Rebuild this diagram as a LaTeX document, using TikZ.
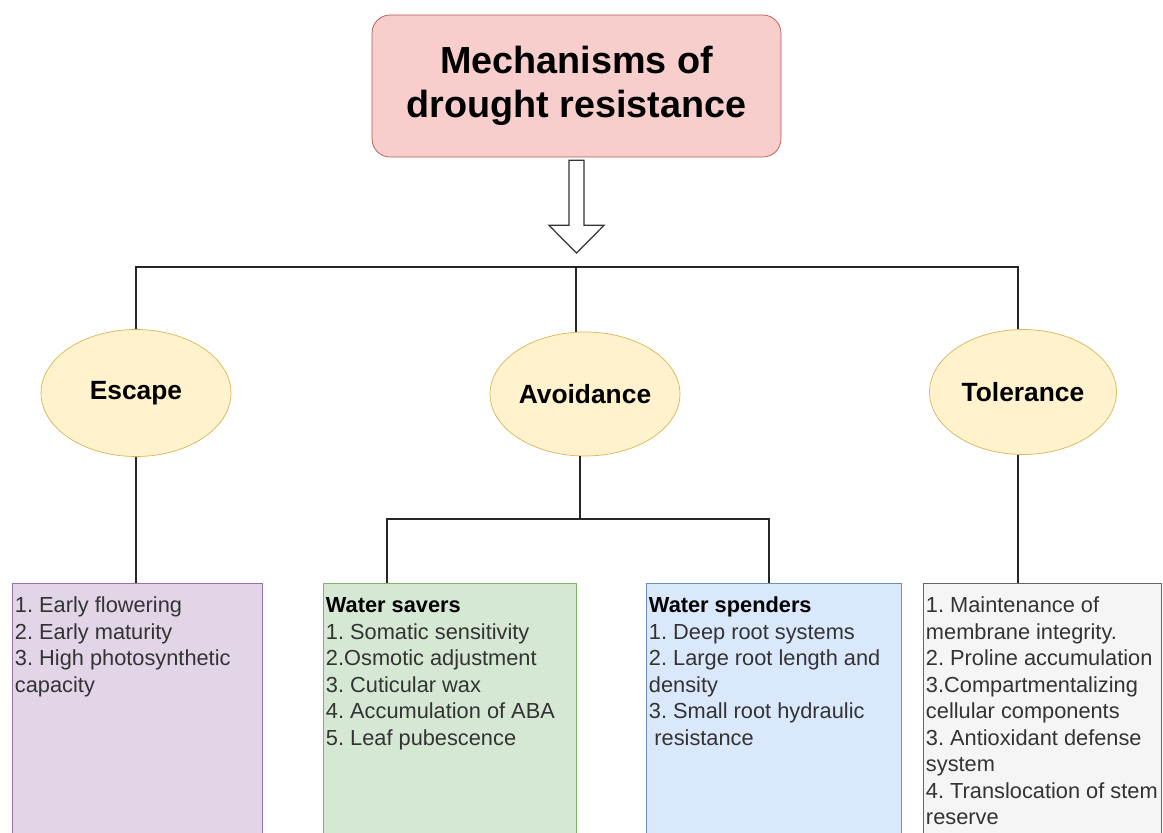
\documentclass[tikz,border=0pt]{standalone}
\usepackage{fontspec}
\setmainfont{Liberation Sans}
\usetikzlibrary{shapes.geometric}
\usetikzlibrary{calc}
\definecolor{titlefill}{HTML}{F8CECC}
\definecolor{titleline}{HTML}{B85450}
\definecolor{ovalfill}{HTML}{FFF2CC}
\definecolor{ovalline}{HTML}{D6B656}
\definecolor{purplefill}{HTML}{E1D5E7}
\definecolor{purpleline}{HTML}{9673A6}
\definecolor{greenfill}{HTML}{D5E8D4}
\definecolor{greenline}{HTML}{82B366}
\definecolor{bluefill}{HTML}{DAE8FC}
\definecolor{blueline}{HTML}{6C8EBF}
\definecolor{grayfill}{HTML}{F5F5F5}
\definecolor{grayline}{HTML}{666666}
\definecolor{bodytext}{HTML}{333333}
\frenchspacing
\tikzset{
  oval/.style={draw=ovalline,fill=ovalfill,ellipse,inner sep=0pt,
    font=\fontsize{15}{18}\selectfont\bfseries},
  listbox/.style={anchor=north west,inner xsep=1.5pt,inner ysep=6pt,
    font=\fontsize{12.4}{15.1}\selectfont,text=bodytext},
  link/.style={draw=black!85,line width=0.75pt},
  hollow/.style={draw=black!80,line width=0.7pt,fill=white},
}
\newcommand{\listtext}[2]{\parbox[t][7cm][t]{#1}{\raggedright\strut #2}}

\begin{document}
\begin{tikzpicture}[x=0.02cm,y=-0.02cm]
  \useasboundingbox (0,0) rectangle (1163,832);
  \clip (0,0) rectangle (1163,832);
  \node[draw=titleline,fill=titlefill,rounded corners=0.36cm,minimum width=8.18cm,
    minimum height=2.84cm,align=center,font=\fontsize{21.5}{25}\selectfont\bfseries]
    (title) at (576.5,86) {Mechanisms of\\drought resistance};
  \node[oval,minimum width=3.8cm,minimum height=2.54cm] (escape) at (136,393) {Escape};
  \node[oval,minimum width=3.8cm,minimum height=2.48cm] (avoid) at (585,394) {Avoidance};
  \node[oval,minimum width=3.74cm,minimum height=2.5cm] (toler) at (1023,392) {Tolerance};
  \node[listbox,draw=purpleline,fill=purplefill] (earlybox) at (12,583)
    {\listtext{4.9cm}{1. Early flowering\\2. Early maturity\\3. High photosynthetic\\capacity}};
  \node[listbox,draw=greenline,fill=greenfill] (savers) at (323,583)
    {\listtext{4.95cm}{\textbf{\color{black}Water savers}\\1. Somatic sensitivity\\2.Osmotic adjustment\\3. Cuticular wax\\4. Accumulation of ABA\\5. Leaf pubescence}};
  \node[listbox,draw=blueline,fill=bluefill] (spenders) at (646,583)
    {\listtext{5cm}{\textbf{\color{black}Water spenders}\\1. Deep root systems\\2. Large root length and\\density\\3. Small root hydraulic\\\hspace{0.25em}resistance}};
  \node[listbox,draw=grayline,fill=grayfill] (tolbox) at (923,583)
    {\listtext{4.65cm}{1. Maintenance of\\membrane integrity.\\2. Proline accumulation\\3.Compartmentalizing\\cellular components\\3. Antioxidant defense\\system\\4. Translocation of stem\\reserve}};
  \coordinate (tip) at (576.5,253);
  \coordinate (bus) at (576,267);
  \coordinate (split) at (580,519);
  \coordinate (savertop) at (387,583);
  \coordinate (spendtop) at (769,583);
  \coordinate (tolstem) at (1018,583);
  \draw[hollow] ($(title.south)+(-7.5,3)$) -- ++(0,65) -- ++(-20,0) -- (tip)
    -- ($(title.south)+(27.5,68)$) -- ++(-20,0) -- ++(0,-65) -- cycle;
  \draw[link] (escape.north) |- (bus) -| (tolstem |- toler.north);
  \draw[link] (bus) -- (bus |- avoid.north);
  \draw[link] (escape.south) -- (escape.south |- earlybox.north);
  \draw[link] (split |- avoid.south) -- (split);
  \draw[link] (savertop) |- (split) -| (spendtop);
  \draw[link] (tolstem |- toler.south) -- (tolstem);
\end{tikzpicture}
\end{document}
